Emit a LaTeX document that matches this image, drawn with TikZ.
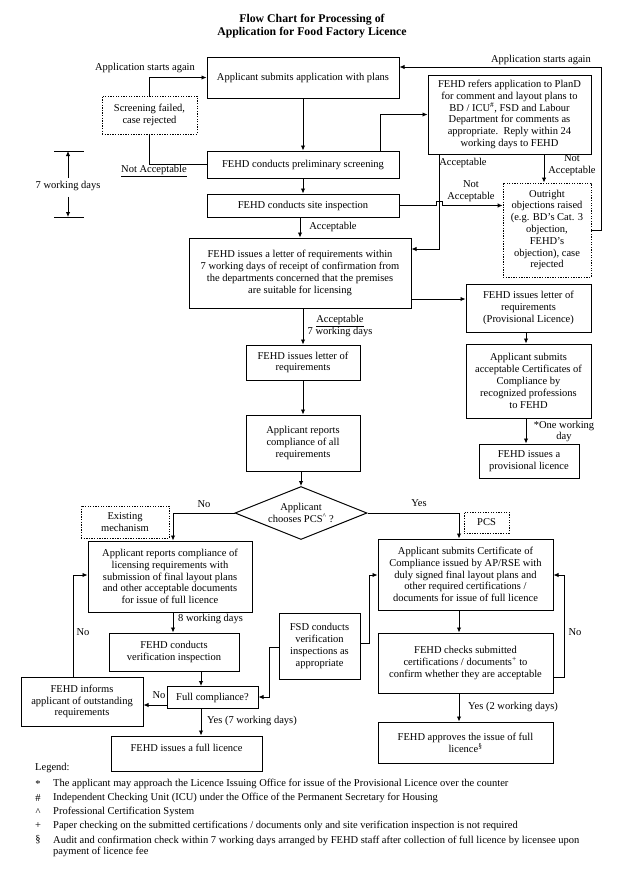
\documentclass[tikz,border=0pt]{standalone}
\usepackage{fontspec}
\setmainfont{Liberation Serif}
\usetikzlibrary{arrows.meta,shapes.geometric,calc}
\begin{document}
\begin{tikzpicture}[x=1pt,y=-1pt,
  every node/.style={font=\fontsize{10.5}{11.8}\selectfont},
  box/.style={draw, line width=1pt, align=center, inner sep=0pt},
  dbox/.style={box, line width=0.9pt, dash pattern=on 1.3pt off 1.3pt},
  lab/.style={inner sep=0pt, align=center},
  arr/.style={line width=0.9pt, -{Latex[length=5pt,width=4.5pt]}},
  ln/.style={line width=0.9pt},
]
\fill[white] (0,0) rectangle (627,876);
\path[use as bounding box] (0,0) rectangle (627,876);

% title
\node[lab, font=\fontsize{11.8}{13.5}\selectfont\bfseries] (title) at (312,26) {Flow Chart for Processing of\\Application for Food Factory Licence};

% boxes
\node[box, minimum width=192, minimum height=41] (A) at (303,77.5) {Applicant submits application with plans};
\node[box, minimum width=163, minimum height=79] (B) at (509.5,114.5) {FEHD refers application to PlanD\\for comment and layout plans to\\BD / ICU\textsuperscript{\#}, FSD and Labour\\Department for comments as\\appropriate.\ \ Reply within 24\\working days to FEHD};
\node[dbox, minimum width=95, minimum height=38] (SF) at (149.5,115) {Screening failed,\\case rejected};
\node[box, minimum width=192, minimum height=27] (PS) at (303,164.5) {FEHD conducts preliminary screening};
\node[box, minimum width=192, minimum height=23] (SI) at (303,205.5) {FEHD conducts site inspection};
\node[box, minimum width=222, minimum height=70] (D) at (300,273) {FEHD issues a letter of requirements within\\7 working days of receipt of confirmation from\\the departments concerned that the premises\\are suitable for licensing};
\node[dbox, minimum width=88, minimum height=94] (OB) at (547,230) {Outright\\objections raised\\(e.g. BD's Cat. 3\\objection,\\FEHD's\\objection), case\\rejected};
\node[box, minimum width=125, minimum height=48] (E) at (528.5,308) {FEHD issues letter of\\requirements\\(Provisional Licence)};
\node[box, minimum width=114, minimum height=35] (F) at (303,362.5) {FEHD issues letter of\\requirements};
\node[box, minimum width=114, minimum height=56] (G) at (303,443) {Applicant reports\\compliance of all\\requirements};
\node[box, minimum width=125, minimum height=74] (H) at (528.5,381) {Applicant submits\\acceptable Certificates of\\Compliance by\\recognized professions\\to FEHD};
\node[box, minimum width=100, minimum height=34] (I) at (529,461) {FEHD issues a\\provisional licence};
\node[diamond, draw, line width=1pt, shape aspect=2.5, inner sep=0pt, minimum width=132, minimum height=53, align=center] (DI) at (301,513) {Applicant\\chooses PCS\textsuperscript{\textasciicircum}\ ?};
\node[dbox, minimum width=88, minimum height=32] (EM) at (125,522) {Existing\\mechanism};
\node[box, minimum width=164, minimum height=71] (J) at (170,576.5) {Applicant reports compliance of\\licensing requirements with\\submission of final layout plans\\and other acceptable documents\\for issue of full licence};
\node[box, minimum width=130, minimum height=38] (K) at (174,652) {FEHD conducts\\verification inspection};
\node[box, minimum width=91, minimum height=22] (L) at (212.5,697.5) {Full compliance?};
\node[box, minimum width=122, minimum height=49] (M) at (82,701.5) {FEHD informs\\applicant of outstanding\\requirements};
\node[box, minimum width=151, minimum height=35] (N) at (186.5,753.5) {FEHD issues a full licence\\\mbox{}};
\node[box, minimum width=175, minimum height=71] (P) at (465.5,574.5) {Applicant submits Certificate of\\Compliance issued by AP/RSE with\\duly signed final layout plans and\\other required certifications /\\documents for issue of full licence};
\node[dbox, minimum width=45, minimum height=21] (PCS) at (486.5,522.5) {PCS};
\node[box, minimum width=175, minimum height=60] (Q) at (465.5,663) {FEHD checks submitted\\certifications / documents\textsuperscript{+} to\\confirm whether they are acceptable};
\node[box, minimum width=81, minimum height=66] (FSD) at (319.5,646) {FSD conducts\\verification\\inspections as\\appropriate};
\node[box, minimum width=175, minimum height=41] (O) at (465.5,742.5) {FEHD approves the issue of full\\licence\textsuperscript{\S}};

% labels
\node[lab] (lasl) at (145,68) {Application starts again};
\node[lab] (lasr) at (541,60) {Application starts again};
\node[lab] (lna1) at (154,171) {\underline{Not Acceptable}};
\node[lab] (wd) at (68,186) {7 working days};
\node[lab] (lacc1) at (463,163) {Acceptable};
\node[lab] (lna2) at (572,165) {Not\\Acceptable};
\node[lab] (lna3) at (471,191.5) {Not\\Acceptable};
\node[lab] (lacc2) at (333,227) {Acceptable};
\node[lab] (lacc3) at (340,326) {\underline{Acceptable}\\7 working days};
\node[lab] (lone) at (564,431.5) {*One working\\day};
\node[lab] (lno1) at (204,504) {No};
\node[lab] (lyes1) at (419,503) {Yes};
\node[lab, anchor=west] (l8) at (178,619) {8 working days};
\node[lab] (lno2) at (159,695) {No};
\node[lab] (lno3) at (83,632) {No};
\node[lab, anchor=west] (ly7) at (207,721) {Yes (7 working days)};
\node[lab] (lno4) at (575,632) {No};
\node[lab, anchor=west] (ly2) at (468,707) {Yes (2 working days)};

% connectors
\coordinate (rtop) at (601,67);
\draw[arr] (SF.north) |- (A.west);
\draw[arr] (OB.east) -| (rtop) -- (A.east |- rtop);
\draw[arr] (A) -- (PS);
\draw[ln] (SF.south) |- (PS.west);
\draw[arr] (PS.north -| 380,0) |- (B.west);
\draw[arr] (PS) -- (SI);
\draw[arr] (SI.east) -- ++(37,0) -- ++(0,-4) -- ++(6,0) -- ++(0,4) -- (OB.west |- SI.east);
\draw[arr] (B.south -| 439,0) |- (D.east |- 0,249);
\draw[arr] (B.south -| 544,0) -- (OB.north -| 544,0);
\draw[arr] (SI.south -| D.north) -- (D.north);
\draw[arr] (D.east |- 0,299) -- (E.west |- 0,299);
\draw[arr] (D.south -| F.north) -- (F.north);
\draw[arr] (F) -- (G);
\draw[arr] (G.south -| DI.north) -- (DI.north);
\draw[arr] (E.south -| 526,0) -- (H.north -| 526,0);
\draw[arr] (H.south -| 526,0) -- (I.north -| 526,0);
\draw[arr] (DI.west) -| (J.north -| 173,0);
\draw[arr] (DI.east) -| (P.north -| 459,0);
\draw[arr] (J.south -| 173,0) -- (K.north -| 173,0);
\draw[arr] (K.south -| 201,0) -- (L.north -| 201,0);
\draw[arr] (L.west |- 0,705) -- (M.east |- 0,705);
\draw[arr] (M.north -| 73,0) |- (J.west |- 0,575);
\draw[arr] (FSD.west |- 0,647) -- ++(-9,0) |- (L.east |- 0,697);
\draw[arr] (FSD.east |- 0,643) -- ++(9,0) |- (P.west |- 0,575);
\draw[arr] (L.south -| 201,0) -- (N.north -| 201,0);
\draw[arr] (P.south -| 459,0) -- (Q.north -| 459,0);
\draw[arr] (Q.east |- 0,677) -- ++(11,0) |- (P.east |- 0,575);
\draw[arr] (Q.south -| 459,0) -- (O.north -| 459,0);

% 7 working days bracket
\coordinate (tt) at (68,151);
\coordinate (tb) at (68,217);
\draw[ln] ($(tt)+(-14,0)$) -- ($(tt)+(16,0)$);
\draw[ln] ($(tb)+(-14,0)$) -- ($(tb)+(16,0)$);
\draw[arr] ($(wd.north)+(0,-3)$) -- (tt);
\draw[arr] ($(wd.south)+(0,6)$) -- (tb);

% legend
\node[lab, anchor=west] (leg) at (35,768) {Legend:};
\node[lab] (s1) at (38,784) {*};
\node[lab, anchor=west] (t1) at (53,784) {The applicant may approach the Licence Issuing Office for issue of the Provisional Licence over the counter};
\node[lab] (s2) at (38,798) {\#};
\node[lab, anchor=west] (t2) at (53,798) {Independent Checking Unit (ICU) under the Office of the Permanent Secretary for Housing};
\node[lab] (s3) at (38,812) {\textasciicircum};
\node[lab, anchor=west] (t3) at (53,812) {Professional Certification System};
\node[lab] (s4) at (38,826) {+};
\node[lab, anchor=west] (t4) at (53,826) {Paper checking on the submitted certifications / documents only and site verification inspection is not required};
\node[lab] (s5) at (38,840) {\S};
\node[lab, anchor=west, align=left] (t5) at (53,846.5) {Audit and confirmation check within 7 working days arranged by FEHD staff after collection of full licence by licensee upon\\ payment of licence fee};
\end{tikzpicture}
\end{document}
